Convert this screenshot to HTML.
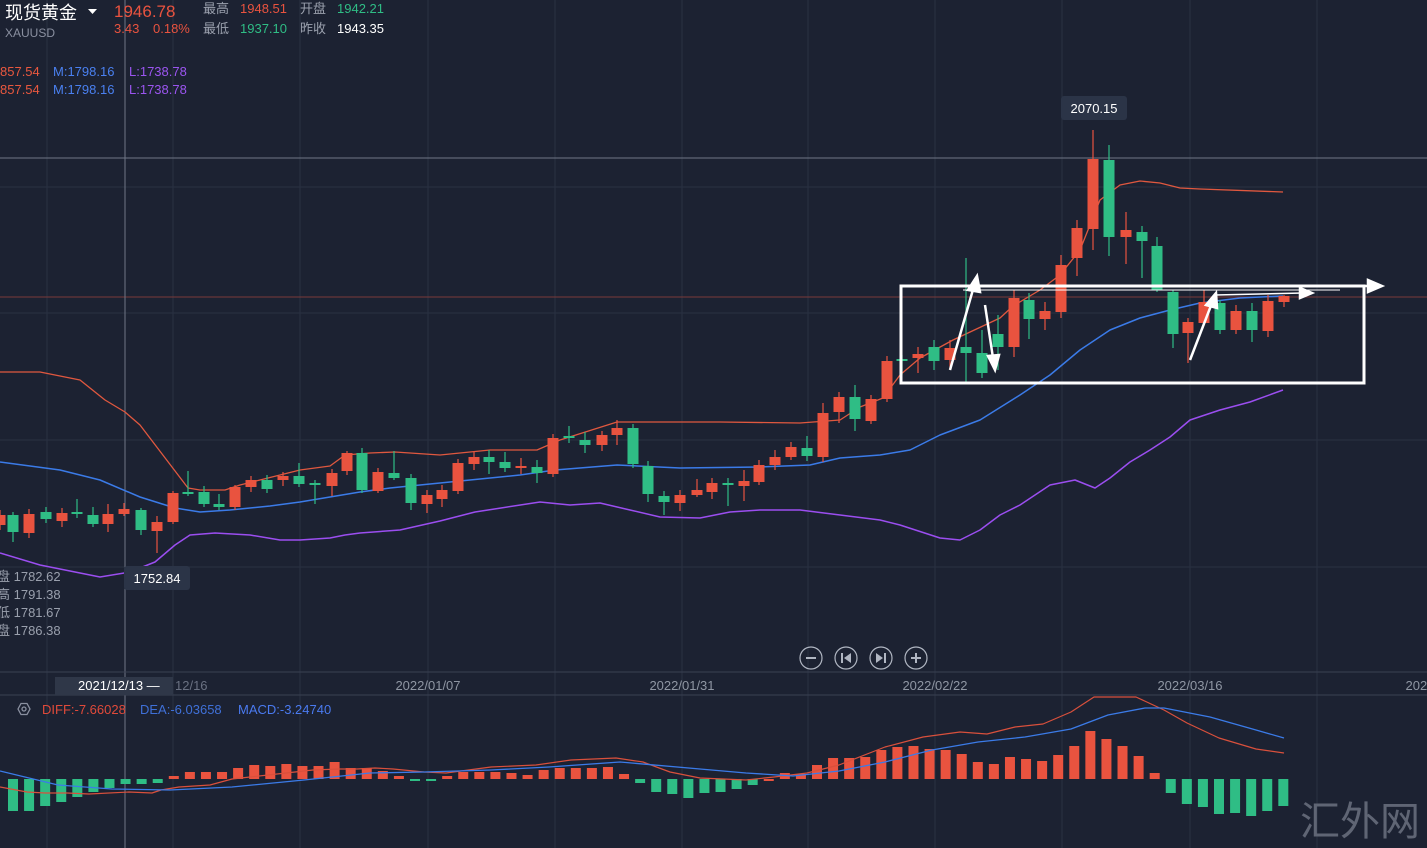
<!DOCTYPE html>
<html><head><meta charset="utf-8"><style>
html,body{margin:0;padding:0;background:#1c2232;width:1427px;height:848px;overflow:hidden}
svg{display:block}
text{font-family:"Liberation Sans","Noto Sans CJK SC",sans-serif}
</style></head><body>
<svg id="s" width="1427" height="848" xmlns="http://www.w3.org/2000/svg">
<rect width="1427" height="848" fill="#1c2232"/>
<g id="grid" stroke="#2a3142" stroke-width="1"></g>
<line x1="0" y1="158" x2="1427" y2="158" stroke="#6f7686" stroke-width="1"/>
<line x1="0" y1="297" x2="1427" y2="297" stroke="#7a3a3a" stroke-width="1"/>
<line x1="125" y1="0" x2="125" y2="848" stroke="#6f7686" stroke-width="1"/>
<line x1="0" y1="672" x2="1427" y2="672" stroke="#3a4152"/>
<line x1="0" y1="695" x2="1427" y2="695" stroke="#3a4152"/>
<g id="bands" fill="none" stroke-width="1.4"></g>
<g id="candles"></g>
<g id="macd"></g>
<g stroke="#fff" fill="none" stroke-width="3">
<rect x="901" y="286" width="463" height="97"/>
</g>
<g stroke="#fff" stroke-width="2.5" fill="#fff">
<line x1="963" y1="286" x2="1372" y2="286"/><polygon points="1382,286 1368,280 1368,292"/>
<line x1="1215" y1="295" x2="1303" y2="293" stroke-width="1.5"/><polygon points="1312,293 1300,288 1300,298"/>
<line x1="950" y1="370" x2="974" y2="286"/><polygon points="977,276 968,290 980,292"/>
<line x1="985" y1="305" x2="993" y2="358"/><polygon points="995,370 988,356 999,355"/>
<line x1="1190" y1="360" x2="1212" y2="303"/><polygon points="1216,293 1206,305 1217,308"/>
</g>
<line x1="963" y1="290" x2="1340" y2="290" stroke="#fff" stroke-width="1"/>
<rect x="1061" y="96" width="66" height="24" rx="3" fill="#2b3447"/>
<text x="1094" y="113" fill="#fff" font-size="13" text-anchor="middle">2070.15</text>
<rect x="124" y="566" width="66" height="24" rx="3" fill="#2b3447"/>
<text x="157" y="583" fill="#fff" font-size="13" text-anchor="middle">1752.84</text>
<g fill="#9aa0ad" font-size="13">
<text x="-3" y="581">盘 1782.62</text><text x="-3" y="599">高 1791.38</text>
<text x="-3" y="617">低 1781.67</text><text x="-3" y="635">盘 1786.38</text>
</g>
<text x="5" y="19" fill="#fff" font-size="18">现货黄金</text>
<polygon points="88,9 97,9 92.5,14" fill="#fff"/>
<text x="114" y="17" fill="#e9533f" font-size="17">1946.78</text>
<text x="5" y="37" fill="#8a90a0" font-size="12">XAUUSD</text>
<text x="114" y="33" fill="#e9533f" font-size="13">3.43</text>
<text x="153" y="33" fill="#e9533f" font-size="13">0.18%</text>
<g font-size="13">
<text x="203" y="13" fill="#9aa0ad">最高</text><text x="240" y="13" fill="#e9533f">1948.51</text>
<text x="300" y="13" fill="#9aa0ad">开盘</text><text x="337" y="13" fill="#2fbd85">1942.21</text>
<text x="203" y="33" fill="#9aa0ad">最低</text><text x="240" y="33" fill="#2fbd85">1937.10</text>
<text x="300" y="33" fill="#9aa0ad">昨收</text><text x="337" y="33" fill="#fff">1943.35</text>
<text x="0" y="76" fill="#e9583f">857.54</text><text x="53" y="76" fill="#4a80f0">M:1798.16</text><text x="129" y="76" fill="#9b55f0">L:1738.78</text>
<text x="0" y="94" fill="#e9583f">857.54</text><text x="53" y="94" fill="#4a80f0">M:1798.16</text><text x="129" y="94" fill="#9b55f0">L:1738.78</text>
</g>
<g stroke="#b0b6c2" fill="none" stroke-width="1.2">
<circle cx="811" cy="658" r="11"/><circle cx="846" cy="658" r="11"/><circle cx="881" cy="658" r="11"/><circle cx="916" cy="658" r="11"/>
<line x1="806" y1="658" x2="816" y2="658" stroke-width="2"/>
<line x1="911" y1="658" x2="921" y2="658" stroke-width="2"/><line x1="916" y1="653" x2="916" y2="663" stroke-width="2"/>
<line x1="842" y1="653" x2="842" y2="663" stroke-width="2"/><line x1="885" y1="653" x2="885" y2="663" stroke-width="2"/>
</g>
<polygon points="851,653 851,663 844,658" fill="#b0b6c2"/><polygon points="876,653 876,663 883,658" fill="#b0b6c2"/>
<rect x="55" y="677" width="118" height="18" fill="#2f3748"/>
<text x="78" y="690" fill="#fff" font-size="13">2021/12/13 —</text>
<text x="175" y="690" fill="#6a7182" font-size="13">12/16</text>
<g fill="#8f96a3" font-size="13" text-anchor="middle">
<text x="428" y="690">2022/01/07</text><text x="682" y="690">2022/01/31</text>
<text x="935" y="690">2022/02/22</text><text x="1190" y="690">2022/03/16</text>
<text x="1420" y="690">2022</text>
</g>
<polygon points="18,709 21,703.5 27,703.5 30,709 27,714.5 21,714.5" fill="none" stroke="#8a90a0" stroke-width="1.3"/>
<circle cx="24" cy="709" r="2" fill="none" stroke="#8a90a0" stroke-width="1.3"/>
<g font-size="13">
<text x="42" y="714" fill="#e04a3a">DIFF:-7.66028</text>
<text x="140" y="714" fill="#3f70d8">DEA:-6.03658</text>
<text x="238" y="714" fill="#4a7af0">MACD:-3.24740</text>
</g>
<text x="1300" y="835" fill="#5f6574" font-size="40" font-family="'Noto Serif CJK SC',serif">汇外网</text>
</svg>
<script>
var NS="http://www.w3.org/2000/svg";
function el(p,t,a){var e=document.createElementNS(NS,t);for(var k in a)e.setAttribute(k,a[k]);p.appendChild(e);return e;}
var g=document.getElementById('grid');
[187,313,440,567].forEach(function(y){el(g,'line',{x1:0,y1:y,x2:1427,y2:y});});
[47,173,300,428,555,682,808,935,1062,1190,1317].forEach(function(x){el(g,'line',{x1:x,y1:0,x2:x,y2:848});});
var R="#e9533f",G="#2fbd85";
var C=[[0,515,525,510,530,1],[13,515,532,512,542,0],[29,514,533,509,538,1],[46,512,519,507,523,0],[62,513,521,508,527,1],[77,512,514,499,518,0],[93,515,524,507,527,0],[108,514,524,504,532,1],[124,509,514,503,516,1],[141,510,530,508,535,0],[157,522,531,516,553,1],[173,493,522,491,524,1],[188,492,494,471,496,0],[204,492,504,486,507,0],[219,504,507,494,510,0],[235,487,507,485,510,1],[251,480,487,476,492,1],[267,480,489,475,493,0],[283,476,480,472,486,1],[299,476,484,463,487,0],[315,483,485,480,504,0],[332,473,486,469,496,1],[347,453,471,451,475,1],[362,453,490,448,493,0],[378,472,491,468,493,1],[394,473,478,451,480,0],[411,478,503,474,510,0],[427,495,504,490,513,1],[442,490,499,485,507,1],[458,463,491,459,494,1],[474,457,464,452,470,1],[489,457,462,450,474,0],[505,462,468,452,472,0],[521,466,468,458,474,1],[537,467,473,460,483,0],[553,438,474,434,477,1],[569,436,438,426,443,0],[585,440,445,432,453,0],[602,435,445,431,451,1],[617,428,435,420,445,1],[633,428,464,424,468,0],[648,466,494,461,502,0],[664,496,502,491,515,0],[680,495,503,490,511,1],[697,490,495,479,497,1],[712,483,492,478,499,1],[728,483,485,478,506,0],[744,481,486,470,501,1],[759,465,482,460,485,1],[775,457,465,450,470,1],[791,447,457,442,460,1],[807,448,456,436,461,0],[823,413,457,403,462,1],[839,397,412,392,423,1],[855,397,419,385,431,0],[871,399,421,395,424,1],[887,361,399,356,402,1],[902,359,361,355,375,0],[918,354,358,347,373,1],[934,347,361,340,370,0],[950,348,360,340,370,1],[966,347,353,258,384,0],[982,353,373,330,378,0],[998,334,347,315,370,0],[1014,298,347,290,357,1],[1029,300,319,293,339,0],[1045,311,319,302,330,1],[1061,265,312,255,318,1],[1077,228,258,220,276,1],[1093,159,229,130,250,1],[1109,160,237,145,256,0],[1126,230,237,212,264,1],[1142,232,241,226,278,0],[1157,246,290,237,292,0],[1173,292,334,290,348,0],[1188,322,333,318,363,1],[1204,302,323,290,324,1],[1220,303,330,300,334,0],[1236,311,330,305,334,1],[1252,311,330,303,342,0],[1268,301,331,295,337,1],[1284,296,302,295,307,1]];
var cg=document.getElementById('candles');
C.forEach(function(c){var col=c[5]?R:G;el(cg,'line',{x1:c[0],y1:c[3],x2:c[0],y2:c[4],stroke:col,'stroke-width':1.2});el(cg,'rect',{x:c[0]-5.5,y:c[1],width:11,height:Math.max(2,c[2]-c[1]),fill:col});});
function pl(p,pts,col,w){el(p,'polyline',{points:pts.map(function(a){return a.join(',')}).join(' '),stroke:col,'stroke-width':w||1.4,fill:'none','stroke-linejoin':'round'});}
var b=document.getElementById('bands');
pl(b,[[0,372],[40,372],[80,380],[105,400],[125,412],[140,425],[188,488],[200,490],[225,490],[240,485],[260,480],[300,470],[330,466],[345,455],[370,453],[395,452],[440,455],[490,450],[537,450],[560,440],[617,422],[720,422],[800,423],[840,420],[860,407],[883,398],[900,375],[920,358],[953,340],[1000,318],[1013,306],[1040,290],[1060,275],[1080,250],[1100,200],[1120,185],[1140,181],[1160,183],[1180,188],[1200,189],[1283,192]],"#e0583f",1.3);
pl(b,[[0,462],[60,470],[100,480],[140,497],[175,508],[200,512],[230,510],[270,506],[300,502],[330,497],[360,492],[390,488],[420,485],[470,480],[520,475],[555,470],[617,465],[680,468],[760,467],[810,465],[840,458],[880,455],[910,450],[940,435],[980,420],[1020,395],[1050,375],[1080,350],[1110,330],[1140,318],[1170,310],[1200,303],[1240,298],[1283,296]],"#3b7be8",1.5);
pl(b,[[0,553],[40,565],[80,573],[100,577],[130,572],[155,562],[175,545],[190,535],[215,533],[250,535],[280,540],[300,540],[330,538],[345,535],[360,533],[400,530],[440,521],[475,512],[540,502],[570,505],[600,503],[630,510],[660,517],[700,518],[730,512],[760,510],[800,510],[840,515],[880,520],[900,525],[940,538],[960,540],[980,530],[1000,515],[1020,505],[1050,485],[1075,480],[1095,488],[1110,478],[1130,462],[1150,450],[1170,437],[1190,420],[1220,410],[1250,402],[1283,390]],"#9b4ef0",1.5);
var M=[811,811,806,802,797,792,788,784,784,783,776,772,772,772,768,765,766,764,766,766,762,768,768,771,776,780,781,776,772,772,772,773,775,770,768,768,768,767,774,783,792,794,798,793,792,789,785,779,773,774,765,758,758,757,750,747,746,749,750,754,762,764,757,759,761,755,746,731,739,746,756,773,793,804,807,814,813,816,811,806];
var mg=document.getElementById('macd');var Z=779;
M.forEach(function(v,i){var x=13+i*16.08;var col=v>Z?G:R;el(mg,'rect',{x:x-5,y:Math.min(v,Z),width:10,height:Math.max(2,Math.abs(v-Z)),fill:col});});
pl(mg,[[0,787],[27,792],[45,793],[67,793],[89,794],[129,792],[152,793],[161,790],[179,787],[210,785],[232,779],[250,777],[268,775],[286,773],[313,770],[339,769],[357,769],[375,768],[393,769],[424,772],[446,773],[491,767],[536,765],[571,760],[616,758],[643,762],[670,772],[700,778],[746,780],[774,777],[807,773],[839,765],[885,747],[923,737],[960,732],[987,734],[1015,727],[1043,724],[1071,712],[1094,697],[1136,697],[1164,710],[1187,723],[1219,738],[1256,749],[1284,753]],"#d9503c",1.2);
pl(mg,[[0,771],[58,785],[112,789],[170,790],[232,787],[304,780],[370,773],[424,772],[491,770],[549,767],[620,762],[700,769],[746,773],[793,776],[839,771],[885,762],[932,750],[978,742],[1025,737],[1071,729],[1108,715],[1145,708],[1164,708],[1210,717],[1256,730],[1284,738]],"#3b7be8",1.3);
</script>
</body></html>
